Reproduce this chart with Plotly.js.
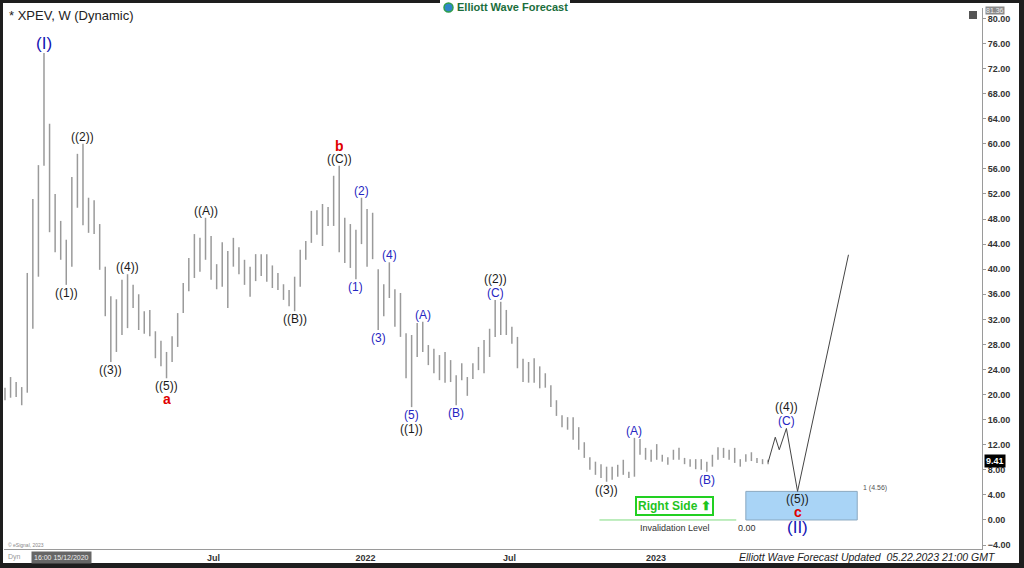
<!DOCTYPE html>
<html>
<head>
<meta charset="utf-8">
<script src="https://cdn.plot.ly/plotly-3.0.1.min.js"></script>
<style>
html,body{margin:0;padding:0;background:#fff;}
#chart{width:1024px;height:568px;}
</style>
</head>
<body>
<div id="chart"></div>
<script>
// ---------------- DATA ----------------
const symbolTitle = "* XPEV, W (Dynamic)";
const firstWeek = "2020-10-05";   // Monday of first weekly bar
const barHigh = [21.1,22.8,22.0,21.2,39.4,51.2,56.6,74.5,63.2,52.0,
47.7,44.7,54.7,58.4,60.0,51.4,51.0,47.2,40.4,35.7,
35.2,38.3,39.2,37.5,36.0,33.3,33.5,30.1,28.6,26.8,
29.3,33.0,37.8,41.8,45.6,45.0,48.2,45.3,40.8,44.3,
42.9,45.0,43.5,41.5,40.4,42.4,42.4,42.4,40.6,39.4,
37.6,36.7,38.8,43.1,44.5,49.3,49.4,50.4,49.9,54.9,
56.5,48.2,47.2,46.3,51.4,49.6,49.0,40.0,37.6,41.1,
36.8,36.2,29.8,29.5,31.4,31.6,27.9,27.3,26.3,26.8,
25.5,23.1,25.0,22.8,25.0,27.6,28.7,30.5,35.1,34.8,
33.5,30.8,29.2,25.7,25.2,25.8,24.5,23.4,21.5,19.1,
16.7,16.4,16.4,14.8,12.4,10.0,9.3,8.9,8.5,8.5,
8.8,9.6,7.7,13.1,12.9,11.5,11.2,12.1,10.4,10.0,
11.2,11.5,9.9,9.7,9.7,9.7,9.3,10.4,11.6,11.5,
11.2,11.5,9.7,10.5,10.8,9.9,9.7,9.6];
const barLow = [19.1,19.5,19.6,18.3,20.3,30.5,38.8,56.5,45.9,42.7,
41.5,37.5,40.4,49.8,47.0,45.8,45.6,39.9,32.5,25.2,
26.8,29.5,30.6,33.8,30.3,29.7,29.3,25.8,24.5,22.6,
25.2,27.6,33.0,36.5,38.6,39.6,41.5,38.3,36.8,37.2,
33.8,40.4,39.2,37.5,35.6,38.1,38.9,38.0,37.0,36.7,
35.1,34.1,33.3,37.2,41.5,44.2,45.5,43.7,46.9,46.9,
42.7,41.0,40.2,38.4,44.0,40.4,41.6,30.3,32.5,35.4,
30.8,29.2,22.6,18.0,26.0,26.8,24.7,23.4,22.3,21.9,
22.0,18.3,22.3,19.8,22.5,23.9,23.4,26.0,29.2,29.5,
29.5,28.1,24.2,22.0,21.9,21.9,21.0,21.1,18.0,16.6,
14.8,14.4,12.8,11.2,9.9,8.0,7.2,6.7,6.1,6.4,
6.9,7.2,6.7,6.9,10.4,9.6,9.3,9.6,9.3,8.8,
9.6,9.6,8.9,8.5,8.1,8.0,7.7,8.5,9.6,9.9,
9.6,9.1,8.5,9.3,9.4,9.1,8.9,8.9];
const lastPrice = 9.41;
const topPrice = "81.36";

// wave labels on bars
const waveText   = ["(I)","((1))","((2))","((3))","((4))","((5))","a","((A))","((B))","((C))","b","(1)","(2)","(3)","(4)","(5)","((1))","(A)","(B)","(C)","((2))","((3))","(A)","(B)"];
const waveBar    = [7,11,14,19,22,29,29,36,52,60,60,63,64,67,69,73,73,75,81,88,88,108,113,126];
const waveSide   = ["hi","lo","hi","lo","hi","lo","lo","hi","lo","hi","hi","lo","hi","lo","hi","lo","lo","hi","lo","hi","hi","lo","hi","lo"];
const waveDegree = ["primary","intermediate","intermediate","intermediate","intermediate","intermediate","cycle","intermediate","intermediate","intermediate","cycle","minor","minor","minor","minor","minor","intermediate","minor","minor","minor","intermediate","intermediate","minor","minor"];

// forecast path
const fcDates  = ["2023-05-22","2023-05-31","2023-06-05","2023-06-14","2023-06-28","2023-08-31"];
const fcPrices = [9.2,13.2,11.2,14.6,4.56,42.3];
const fcText   = ["(C)","((4))","((5))","c","(II)"];
const fcPoint  = [3,3,4,4,4];
const fcSide   = ["hi","hi","lo","lo","lo"];
const fcDegree = ["minor","intermediate","intermediate","cycle","primary"];

// zones
const targetZone = {x0:"2023-04-24", x1:"2023-09-11", y0:0, y1:4.56, label:"1 (4.56)"};
const invalidation = {x0:"2022-10-22", x1:"2023-04-12", y:0, label:"Invalidation Level", value:"0.00"};

// axis ticks
const xTickVals = ["2021-06-24","2022-01-01","2022-07-01","2023-01-01"];
const xTickText = ["Jul","2022","Jul","2023"];

// ---------------- BUILD ----------------
function weekDate(i){
  const d = new Date(Date.parse(firstWeek+"T00:00:00Z") + i*7*86400000);
  return d.toISOString().slice(0,10);
}
const barDates = barHigh.map((_,i)=>weekDate(i));
const bx=[], by=[];
barHigh.forEach((h,i)=>{ bx.push(barDates[i],barDates[i],null); by.push(barLow[i],h,null); });

const styles = {
  primary:{color:"#1414b4",size:17,h:19},
  intermediate:{color:"#1a1a1a",size:12,h:14},
  minor:{color:"#2626c2",size:12,h:14},
  cycle:{color:"#e00000",size:14,h:12}
};
const FONT = "Arial, 'Liberation Sans', sans-serif";

// pixel helpers for fixed decorations (plot area: x 4..982, y 8..549)
const px = x => (x-4)/978;
const py = y => (549-y)/541;

const annotations = [];
function addLabels(texts, xs, ys, sides, degrees){
  const offs = {};
  texts.forEach((t,k)=>{
    const key = xs[k]+"|"+sides[k];
    const off = offs[key] || 0;
    const st = styles[degrees[k]];
    annotations.push({
      x: xs[k], y: ys[k], xref:"x", yref:"y", text: t, showarrow:false,
      yanchor: sides[k]==="hi" ? "bottom" : "top",
      yshift: sides[k]==="hi" ? (off-1) : -off,
      height: st.h,
      font:{family:FONT, size:st.size, color:st.color, weight: degrees[k]==="cycle"?"bold":"normal"},
      borderpad:0
    });
    offs[key] = off + st.h;
  });
}
addLabels(waveText, waveBar.map(i=>barDates[i]),
  waveBar.map((i,k)=> waveSide[k]==="hi" ? barHigh[i] : barLow[i]), waveSide, waveDegree);
addLabels(fcText, fcPoint.map(i=>fcDates[i]), fcPoint.map(i=>fcPrices[i]), fcSide, fcDegree);

// fixed texts
annotations.push(
  {xref:"paper",yref:"paper",x:px(7),y:py(16),xanchor:"left",yanchor:"middle",showarrow:false,
   text:symbolTitle,font:{family:FONT,size:13,color:"#222"}},
  {xref:"paper",yref:"paper",x:px(455),y:py(7),xanchor:"left",yanchor:"middle",showarrow:false,
   text:"<b>Elliott Wave Forecast</b>",font:{family:FONT,size:11,color:"#1b6e3c"},bgcolor:"#fff",borderpad:1},
  {xref:"paper",yref:"paper",x:px(737),y:py(557),xanchor:"left",yanchor:"middle",showarrow:false,
   text:"<i>Elliott Wave Forecast Updated  05.22.2023 21:00 GMT</i>",font:{family:FONT,size:10.5,color:"#222"}},
  {xref:"paper",yref:"y",x:px(984),y:lastPrice,xanchor:"left",yanchor:"middle",showarrow:false,
   text:"<b>"+lastPrice.toFixed(2)+"</b>",font:{family:FONT,size:9,color:"#fff"},bgcolor:"#000",borderpad:1},
  {xref:"paper",yref:"paper",x:px(985),y:py(11),xanchor:"left",yanchor:"middle",showarrow:false,
   text:topPrice,font:{family:FONT,size:7,color:"#eee"},bgcolor:"#8a8a8a",borderpad:0},
  {xref:"paper",yref:"paper",x:px(31),y:py(557),xanchor:"left",yanchor:"middle",showarrow:false,
   text:"16:00 15/12/2020",font:{family:FONT,size:7,color:"#eee"},bgcolor:"#666",borderpad:2},
  {xref:"paper",yref:"paper",x:px(6),y:py(557),xanchor:"left",yanchor:"middle",showarrow:false,
   text:"Dyn",font:{family:FONT,size:7,color:"#999"}},
  {xref:"paper",yref:"paper",x:px(6),y:py(545),xanchor:"left",yanchor:"middle",showarrow:false,
   text:"© eSignal, 2023",font:{family:FONT,size:5,color:"#888"}},
  // zone label
  {xref:"x",yref:"y",x:targetZone.x1,y:targetZone.y1,xanchor:"left",yanchor:"middle",xshift:4,yshift:3,showarrow:false,
   text:targetZone.label,font:{family:FONT,size:7,color:"#555"}},
  {xref:"x",yref:"y",x:"2023-01-25",y:invalidation.y,xanchor:"center",yanchor:"top",yshift:-1,showarrow:false,
   text:invalidation.label,font:{family:FONT,size:9,color:"#333"}},
  {xref:"x",yref:"y",x:"2023-04-26",y:invalidation.y,xanchor:"center",yanchor:"top",yshift:-1,showarrow:false,
   text:invalidation.value,font:{family:FONT,size:9,color:"#333"}},
  {xref:"x",yref:"y",x:"2023-01-24",y:2.2,xanchor:"center",yanchor:"middle",showarrow:false,
   text:"<b>Right Side ⬆</b>",font:{family:FONT,size:12,color:"#1fc41f"},
   bgcolor:"#fff",bordercolor:"#22d022",borderwidth:2,borderpad:1}
);

const shapes = [
  {type:"rect",xref:"x",yref:"y",x0:targetZone.x0,x1:targetZone.x1,y0:targetZone.y0,y1:targetZone.y1,
   fillcolor:"#a9d4f6",line:{color:"#8aa8c0",width:1},layer:"below"},
  {type:"line",xref:"x",yref:"y",x0:invalidation.x0,x1:invalidation.x1,y0:invalidation.y,y1:invalidation.y,
   line:{color:"#7fdc7f",width:1}},
  // top-right small icon
  {type:"rect",xref:"paper",yref:"paper",x0:px(969),x1:px(977),y0:py(19),y1:py(11),fillcolor:"#555",line:{width:0}},
  // frame
  {type:"rect",xref:"paper",yref:"paper",x0:px(0),x1:px(3),y0:py(568),y1:py(0),fillcolor:"#1e1e1e",line:{width:0},layer:"above"},
  {type:"rect",xref:"paper",yref:"paper",x0:px(1019),x1:px(1024),y0:py(568),y1:py(0),fillcolor:"#1e1e1e",line:{width:0},layer:"above"},
  {type:"rect",xref:"paper",yref:"paper",x0:px(0),x1:px(440),y0:py(3),y1:py(0),fillcolor:"#1e1e1e",line:{width:0},layer:"above"},
  {type:"rect",xref:"paper",yref:"paper",x0:px(570),x1:px(1024),y0:py(3),y1:py(0),fillcolor:"#1e1e1e",line:{width:0},layer:"above"},
  {type:"rect",xref:"paper",yref:"paper",x0:px(0),x1:px(1024),y0:py(568),y1:py(563),fillcolor:"#1e1e1e",line:{width:0},layer:"above"},
  // logo globe
  {type:"circle",xref:"paper",yref:"paper",x0:px(444),x1:px(453),y0:py(12),y1:py(3),fillcolor:"#2f86c8",line:{color:"#2e9e4a",width:1.5},layer:"above"}
];

const traces = [
  {type:"scatter",mode:"lines",x:bx,y:by,line:{color:"#9a9a9a",width:1.5},hoverinfo:"skip",connectgaps:false},
  {type:"scatter",mode:"lines",x:fcDates,y:fcPrices,line:{color:"#444",width:1},hoverinfo:"skip"}
];

const layout = {
  width:1024,height:568,
  margin:{l:4,r:42,t:8,b:19},
  paper_bgcolor:"#fff",plot_bgcolor:"#fff",
  showlegend:false,
  font:{family:FONT},
  xaxis:{type:"date",range:["2020-10-03 18:00","2024-02-14 19:00"],
    tickvals:xTickVals,ticktext:xTickText,showgrid:false,zeroline:false,
    showline:true,linecolor:"#9a9a9a",ticks:"",
    tickfont:{family:FONT,size:9,color:"#333",weight:"bold"},fixedrange:true},
  yaxis:{side:"right",range:[-4.63,81.66],tick0:0,dtick:4,tickformat:".2f",
    showgrid:false,zeroline:false,showline:true,linecolor:"#9a9a9a",
    ticks:"outside",ticklen:3,tickcolor:"#9a9a9a",
    tickfont:{family:FONT,size:9,color:"#333",weight:"bold"},fixedrange:true},
  annotations:annotations,
  shapes:shapes
};
Plotly.newPlot("chart",traces,layout,{displayModeBar:false,staticPlot:true});
</script>
</body>
</html>
